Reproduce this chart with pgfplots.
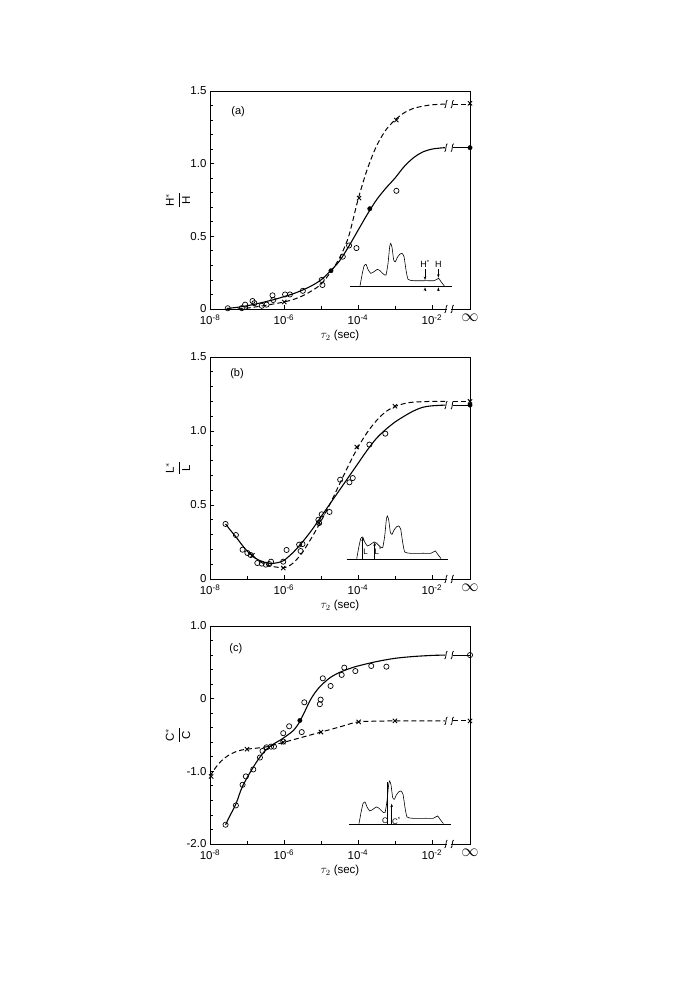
\documentclass[border=0pt]{standalone}
\usepackage{pgfplots}
\usepackage{pgfplotstable}
\pgfplotsset{compat=1.18}
\usepackage{fontspec}
\setmainfont{Liberation Sans}
\usetikzlibrary{arrows.meta}
\tikzset{arr/.style={line width=0.6pt, -{Stealth[length=3.5pt,width=2.5pt]}}}

\pgfplotstableread{
u v
600 2
606 35
612 62
618 67
624 52
632 40
642 45
652 52
660 48
670 38
678 35
684 70
689 120
692 130
696 118
701 80
706 75
712 88
720 98
726 100
732 90
738 50
744 22
760 18
800 18
822 18
830 22
836 25
843 15
853 2
}\spec

\newcommand\brk[1]{%
  \draw[line width=0.8pt] (axis cs:-1.62,#1) ++(-1.3pt,-4pt) .. controls +(1.6pt,0pt) and +(-1.6pt,0pt) .. ++(2.6pt,8pt);
  \draw[line width=0.8pt] (axis cs:-1.45,#1) ++(-1.3pt,-4pt) .. controls +(1.6pt,0pt) and +(-1.6pt,0pt) .. ++(2.6pt,8pt);}
\newcommand\axbrk[1]{%
  \draw[white,line width=2.5pt] (axis cs:-1.58,#1) -- (axis cs:-1.49,#1);
  \brk{#1}}

\begin{document}
\begin{tikzpicture}
\path[use as bounding box] (0,0) rectangle (675pt,1000pt);
\pgfplotsset{
  panel/.style={
    scale only axis, width=260pt, xmin=-8, xmax=-0.97,
    axis line style={line width=0.9pt},
    tick align=inside, xtick pos=bottom, ytick pos=left,
    xtick={-8,-6,-4,-2,-0.97},
    xticklabels={10\textsuperscript{-8},10\textsuperscript{-6},10\textsuperscript{-4},10\textsuperscript{-2},{\fontsize{17}{17}\selectfont$\infty$}},
    minor xtick={-7,-5,-3},
    major tick length=4pt, minor tick length=3pt,
    every tick/.style={line width=0.8pt,black},
    tick label style={font=\fontsize{11.5}{13}\selectfont},
    xticklabel style={yshift=-2pt},
    xlabel={$\tau_2$ (sec)},
    xlabel style={at={(axis description cs:0.5,0)},anchor=center,yshift=-27pt,font=\fontsize{11.5}{13}\selectfont},
    ylabel style={at={(axis description cs:-0.123,0.5)},anchor=center,font=\fontsize{11.5}{13}\selectfont},
    clip=false,
  },
  solidc/.style={black, line width=1.1pt, smooth, tension=0.5, mark=none},
  dashc/.style={black, line width=1.0pt, dash pattern=on 5pt off 3pt, smooth, tension=0.5, mark=none},
  circ/.style={only marks, mark=o, mark size=2.6pt, mark options={line width=0.7pt,black}},
  crs/.style={only marks, mark=x, mark size=3pt, mark options={line width=0.9pt,black}},
  dot/.style={only marks, mark=*, mark size=2.2pt, mark options={black}},
  inset/.style={scale only axis, width=101.7pt, height=45pt, xmin=570, xmax=875, ymin=0, ymax=135, hide axis, clip=false},
  spec/.style={black, line width=0.6pt, smooth, tension=0.3, mark=none},
}

% ---------------- panel (a)
\begin{axis}[panel, at={(210pt,691pt)}, anchor=south west, height=218pt,
  ymin=0, ymax=1.5, ytick={0,0.5,1,1.5}, yticklabels={0,0.5,1.0,1.5},
  minor ytick={0.1,0.2,0.3,0.4,0.6,0.7,0.8,0.9,1.1,1.2,1.3,1.4},
  ylabel={$\displaystyle\frac{\mathrm{H}^{*}}{\mathrm{H}}$}]
\addplot[solidc] coordinates {(-7.55,0.003) (-7.25,0.012) (-7.0,0.022) (-6.75,0.035) (-6.5,0.05) (-6.25,0.066) (-6.0,0.085) (-5.75,0.105) (-5.5,0.13) (-5.25,0.16) (-5.0,0.20) (-4.75,0.26) (-4.5,0.33) (-4.25,0.43) (-4.0,0.54) (-3.75,0.65) (-3.5,0.75) (-3.25,0.83) (-3.0,0.90) (-2.75,0.98) (-2.5,1.04) (-2.25,1.08) (-2.0,1.10) (-1.75,1.108) (-1.64,1.11)};
\addplot[solidc] coordinates {(-1.43,1.11) (-0.97,1.11)};
\addplot[dashc] coordinates {(-7.25,0.0) (-7.0,0.006) (-6.75,0.015) (-6.5,0.025) (-6.25,0.036) (-6.0,0.048) (-5.75,0.065) (-5.5,0.09) (-5.25,0.125) (-5.0,0.17) (-4.75,0.25) (-4.5,0.35) (-4.25,0.50) (-4.0,0.75) (-3.75,0.96) (-3.5,1.12) (-3.25,1.23) (-3.0,1.30) (-2.75,1.35) (-2.5,1.38) (-2.25,1.395) (-2.0,1.405) (-1.64,1.41)};
\addplot[dashc] coordinates {(-1.43,1.41) (-0.97,1.41)};
\addplot[circ] coordinates {(-7.52,0.005) (-7.14,0.006) (-7.05,0.03) (-6.85,0.055) (-6.80,0.04) (-6.60,0.022) (-6.47,0.03) (-6.31,0.094) (-6.29,0.062) (-5.97,0.10) (-5.84,0.10) (-5.49,0.125) (-4.98,0.20) (-4.96,0.165) (-4.41,0.36) (-4.24,0.437) (-4.04,0.419) (-2.96,0.813)};
\addplot[crs] coordinates {(-5.99,0.048) (-3.97,0.763) (-2.96,1.30) (-0.97,1.415)};
\addplot[dot] coordinates {(-4.73,0.263) (-3.68,0.69) (-0.97,1.11)};
\brk{1.11} \brk{1.41} \axbrk{0}
\node[font=\fontsize{11}{12}\selectfont] at (axis cs:-7.24,1.356) {(a)};
\end{axis}
\begin{axis}[inset, at={(350pt,713.3pt)}, anchor=south west]
\addplot[black, line width=0.6pt] coordinates {(570,0) (875,0)};
\addplot[spec] table[x=u,y=v] {\spec};
\draw[arr] (axis cs:795,52) -- (axis cs:795,20);
\draw[arr] (axis cs:835,52) -- (axis cs:835,27);
\draw[arr] (axis cs:795,-14) -- (axis cs:795,-2);
\draw[arr] (axis cs:835,-14) -- (axis cs:835,-2);
\node[font=\fontsize{9}{10}\selectfont] at (axis cs:795,68) {H\textsuperscript{*}};
\node[font=\fontsize{9}{10}\selectfont] at (axis cs:835,68) {H};
\end{axis}

% ---------------- panel (b)
\begin{axis}[panel, at={(210pt,421pt)}, anchor=south west, height=222pt,
  ymin=0, ymax=1.5, ytick={0,0.5,1,1.5}, yticklabels={0,0.5,1.0,1.5},
  minor ytick={0.1,0.2,0.3,0.4,0.6,0.7,0.8,0.9,1.1,1.2,1.3,1.4},
  ylabel={$\displaystyle\frac{\mathrm{L}^{*}}{\mathrm{L}}$}]
\addplot[solidc] coordinates {(-7.58,0.372) (-7.45,0.33) (-7.3,0.285) (-7.15,0.235) (-7.0,0.19) (-6.85,0.155) (-6.7,0.13) (-6.5,0.11) (-6.3,0.105) (-6.1,0.115) (-6.0,0.125) (-5.75,0.18) (-5.5,0.25) (-5.25,0.33) (-5.0,0.42) (-4.75,0.51) (-4.5,0.60) (-4.25,0.69) (-4.0,0.78) (-3.75,0.87) (-3.5,0.95) (-3.25,1.01) (-3.0,1.06) (-2.75,1.10) (-2.5,1.135) (-2.25,1.16) (-2.0,1.17) (-1.64,1.175)};
\addplot[solidc] coordinates {(-1.43,1.175) (-0.97,1.175)};
\addplot[dashc] coordinates {(-6.85,0.155) (-6.6,0.11) (-6.4,0.09) (-6.2,0.08) (-6.0,0.076) (-5.85,0.09) (-5.7,0.12) (-5.5,0.18) (-5.25,0.28) (-5.0,0.39) (-4.75,0.51) (-4.5,0.64) (-4.25,0.77) (-4.0,0.89) (-3.75,0.99) (-3.5,1.07) (-3.25,1.13) (-3.0,1.165) (-2.75,1.185) (-2.5,1.195) (-2.0,1.20) (-1.64,1.20)};
\addplot[dashc] coordinates {(-1.43,1.20) (-0.97,1.20)};
\addplot[circ] coordinates {(-7.58,0.372) (-7.30,0.297) (-7.12,0.198) (-6.99,0.176) (-6.90,0.162) (-6.72,0.108) (-6.60,0.104) (-6.49,0.097) (-6.40,0.101) (-6.35,0.117) (-6.02,0.117) (-5.93,0.196) (-5.59,0.232) (-5.50,0.236) (-5.55,0.189) (-5.07,0.40) (-5.05,0.378) (-4.98,0.437) (-4.77,0.453) (-4.48,0.671) (-4.23,0.653) (-4.14,0.682) (-3.69,0.908) (-3.26,0.982)};
\addplot[crs] coordinates {(-6.85,0.16) (-6.02,0.074) (-5.05,0.38) (-4.03,0.892) (-3.0,1.167) (-0.97,1.20)};
\addplot[dot] coordinates {(-0.97,1.175)};
\brk{1.175} \axbrk{0}
\node[font=\fontsize{11}{12}\selectfont] at (axis cs:-7.27,1.39) {(b)};
\end{axis}
\begin{axis}[inset, at={(346.7pt,440.7pt)}, anchor=south west]
\addplot[black, line width=0.6pt] coordinates {(570,0) (875,0)};
\addplot[spec] table[x=u,y=v] {\spec};
\draw[arr] (axis cs:618,0) -- (axis cs:618,66);
\draw[arr] (axis cs:654,0) -- (axis cs:654,51);
\node[font=\fontsize{8}{9}\selectfont] at (axis cs:627,22) {L};
\node[font=\fontsize{8}{9}\selectfont] at (axis cs:665,24) {L\textsuperscript{*}};
\end{axis}

% ---------------- panel (c)
\begin{axis}[panel, at={(210pt,156pt)}, anchor=south west, height=218pt,
  ymin=-2, ymax=1, ytick={-2,-1,0,1}, yticklabels={-2.0,-1.0,0,1.0},
  minor ytick={-1.8,-1.6,-1.4,-1.2,-0.8,-0.6,-0.4,-0.2,0.2,0.4,0.6,0.8},
  ylabel={$\displaystyle\frac{\mathrm{C}^{*}}{\mathrm{C}}$}]
\addplot[solidc] coordinates {(-7.58,-1.735) (-7.45,-1.60) (-7.3,-1.45) (-7.15,-1.24) (-7.0,-1.09) (-6.85,-0.96) (-6.7,-0.84) (-6.5,-0.71) (-6.3,-0.63) (-6.1,-0.57) (-5.9,-0.50) (-5.75,-0.44) (-5.6,-0.34) (-5.45,-0.19) (-5.3,-0.03) (-5.15,0.09) (-5.0,0.18) (-4.75,0.29) (-4.5,0.36) (-4.25,0.41) (-4.0,0.45) (-3.5,0.51) (-3.0,0.555) (-2.5,0.58) (-2.0,0.595) (-1.64,0.60)};
\addplot[solidc] coordinates {(-1.43,0.60) (-0.97,0.60)};
\addplot[dashc] coordinates {(-8.0,-1.07) (-7.85,-0.95) (-7.7,-0.86) (-7.5,-0.78) (-7.25,-0.72) (-7.0,-0.695) (-6.5,-0.665) (-6.0,-0.60) (-5.5,-0.53) (-5.0,-0.46) (-4.5,-0.39) (-4.0,-0.32) (-3.5,-0.31) (-3.0,-0.306) (-1.64,-0.306)};
\addplot[dashc] coordinates {(-1.43,-0.306) (-0.97,-0.306)};
\addplot[circ] coordinates {(-7.58,-1.735) (-7.30,-1.469) (-7.12,-1.185) (-7.03,-1.07) (-6.83,-0.974) (-6.65,-0.81) (-6.58,-0.72) (-6.47,-0.67) (-6.35,-0.66) (-6.27,-0.66) (-6.02,-0.475) (-6.02,-0.59) (-5.86,-0.38) (-5.52,-0.46) (-5.45,-0.05) (-5.03,-0.076) (-5.01,-0.013) (-4.95,0.28) (-4.74,0.175) (-4.44,0.327) (-4.37,0.427) (-4.07,0.38) (-3.64,0.45) (-3.23,0.44) (-0.97,0.60)};
\addplot[crs] coordinates {(-7.97,-1.07) (-7.0,-0.695) (-6.02,-0.60) (-5.0,-0.46) (-3.98,-0.32) (-3.0,-0.306) (-0.97,-0.306)};
\addplot[dot] coordinates {(-5.57,-0.30)};
\brk{0.60} \brk{-0.306} \axbrk{-2}
\node[font=\fontsize{11}{12}\selectfont] at (axis cs:-7.30,0.69) {(c)};
\end{axis}
\begin{axis}[inset, at={(349pt,175.7pt)}, anchor=south west]
\addplot[black, line width=0.6pt] coordinates {(570,0) (875,0)};
\addplot[spec] table[x=u,y=v] {\spec};
\draw[line width=0.9pt] (axis cs:686,0) -- (axis cs:686,128);
\draw[arr] (axis cs:698,0) -- (axis cs:698,62);
\node[font=\fontsize{8}{9}\selectfont] at (axis cs:678,11) {C};
\node[font=\fontsize{8}{9}\selectfont] at (axis cs:712,11) {C\textsuperscript{*}};
\end{axis}
\end{tikzpicture}
\end{document}
